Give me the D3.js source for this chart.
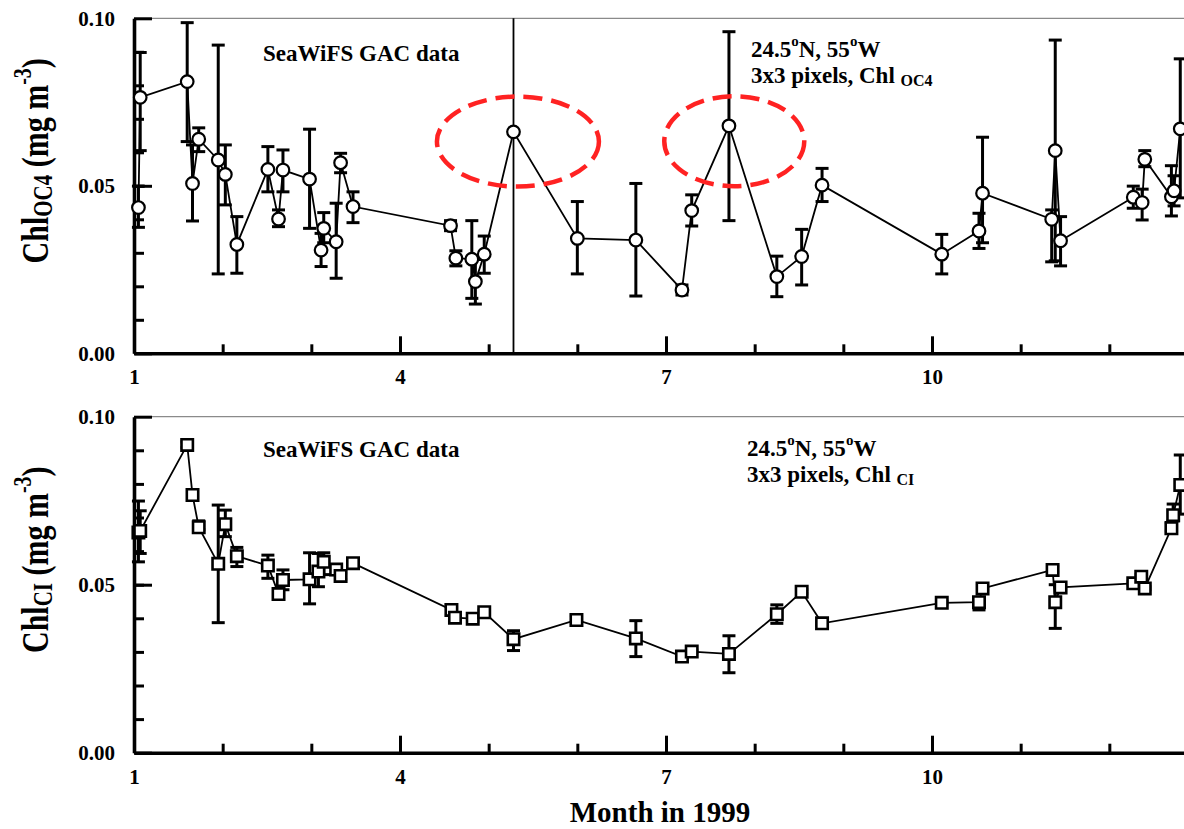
<!DOCTYPE html>
<html>
<head>
<meta charset="utf-8">
<script src="https://cdn.jsdelivr.net/npm/d3@7"></script>
<style>
  body { margin: 0; background: #fff; }
  svg {
    display: block;
    font-family: "Liberation Serif", "Times New Roman", serif;
    font-weight: bold;
  }
</style>
</head>
<body>
<div id="chart"></div>
<script>
// SeaWiFS GAC, 24.5N 55W, 3x3 pixels -- month of 1999 (fractional) and Chl in mg m-3
const oc4Months = [1.05, 1.07, 1.60, 1.66, 1.73, 1.95, 2.03, 2.16, 2.51, 2.63, 2.68, 2.98, 3.11, 3.14, 3.28, 3.33, 3.47,
  4.57, 4.63, 4.81, 4.85, 4.95, 5.28, 6.00, 6.66, 7.18, 7.29, 7.71, 8.25, 8.53, 8.76, 10.11, 10.53, 10.57,
  11.35, 11.39, 11.45, 12.27, 12.37, 12.40, 12.70, 12.73, 12.80];
const oc4Chl = [0.0435, 0.0764, 0.0811, 0.0507, 0.0639, 0.0577, 0.0534, 0.0325, 0.0549, 0.0401, 0.0547, 0.0520, 0.0308,
  0.0373, 0.0333, 0.0569, 0.0438, 0.0381, 0.0284, 0.0281, 0.0214, 0.0296, 0.0661, 0.0343, 0.0338, 0.0189, 0.0426,
  0.0679, 0.0229, 0.0289, 0.0502, 0.0296, 0.0365, 0.0478, 0.0400, 0.0605, 0.0336, 0.0466, 0.0450, 0.0579, 0.0467,
  0.0485, 0.0670];
const oc4Low = [0.0376, 0.0605, 0.0632, 0.0395, 0.0602, 0.0237, 0.0443, 0.0239, 0.0482, 0.0378, 0.0482, 0.0373, 0.0259,
  0.0330, 0.0224, 0.0539, 0.0390, 0.0366, 0.0261, 0.0164, 0.0147, 0.0239, 0.0661, 0.0237, 0.0171, 0.0174, 0.0380,
  0.0396, 0.0169, 0.0204, 0.0453, 0.0237, 0.0313, 0.0330, 0.0273, 0.0276, 0.0261, 0.0433, 0.0398, 0.0557, 0.0410,
  0.0440, 0.0464];
const oc4High = [0.0499, 0.0898, 0.0987, 0.0622, 0.0673, 0.0920, 0.0622, 0.0408, 0.0617, 0.0428, 0.0607, 0.0669, 0.0358,
  0.0420, 0.0448, 0.0597, 0.0482, 0.0396, 0.0306, 0.0396, 0.0280, 0.0350, 0.0661, 0.0453, 0.0507, 0.0204, 0.0473,
  0.0960, 0.0290, 0.0370, 0.0552, 0.0355, 0.0418, 0.0645, 0.0428, 0.0935, 0.0408, 0.0499, 0.0490, 0.0605, 0.0560,
  0.0530, 0.0879];

const ciMonths = [1.05, 1.07, 1.60, 1.66, 1.73, 1.95, 2.03, 2.16, 2.51, 2.63, 2.68, 2.98, 3.08, 3.14, 3.28, 3.33, 3.47,
  4.58, 4.62, 4.82, 4.95, 5.28, 5.99, 6.66, 7.18, 7.29, 7.71, 8.25, 8.53, 8.76, 10.11, 10.53, 10.57,
  11.36, 11.39, 11.45, 12.27, 12.36, 12.40, 12.70, 12.72, 12.80];
const ciChl = [0.0655, 0.0660, 0.0916, 0.0767, 0.0671, 0.0562, 0.0680, 0.0585, 0.0557, 0.0472, 0.0514, 0.0516, 0.0539,
  0.0568, 0.0545, 0.0526, 0.0564, 0.0425, 0.0402, 0.0399, 0.0418, 0.0338, 0.0395, 0.0340, 0.0286, 0.0301, 0.0294,
  0.0412, 0.0479, 0.0385, 0.0446, 0.0448, 0.0489, 0.0544, 0.0448, 0.0492, 0.0504, 0.0524, 0.0489, 0.0668, 0.0707,
  0.0797];
const ciLow = [0.0568, 0.0593, 0.0908, 0.0760, 0.0664, 0.0387, 0.0643, 0.0554, 0.0519, 0.0462, 0.0485, 0.0443, 0.0494,
  0.0530, 0.0530, 0.0515, 0.0560, 0.0410, 0.0395, 0.0392, 0.0412, 0.0304, 0.0385, 0.0286, 0.0282, 0.0298, 0.0238,
  0.0385, 0.0474, 0.0380, 0.0443, 0.0425, 0.0485, 0.0538, 0.0370, 0.0488, 0.0500, 0.0519, 0.0485, 0.0660, 0.0690,
  0.0710];
const ciHigh = [0.0749, 0.0720, 0.0925, 0.0772, 0.0690, 0.0737, 0.0722, 0.0611, 0.0588, 0.0485, 0.0544, 0.0595, 0.0593,
  0.0595, 0.0560, 0.0535, 0.0568, 0.0440, 0.0408, 0.0405, 0.0424, 0.0363, 0.0408, 0.0393, 0.0290, 0.0305, 0.0348,
  0.0440, 0.0485, 0.0390, 0.0450, 0.0460, 0.0495, 0.0555, 0.0500, 0.0498, 0.0510, 0.0530, 0.0494, 0.0685, 0.0740,
  0.0886];

const xMajorTicks = [1, 4, 7, 10, 13];
const xTickLabels = ["1", "4", "7", "10", ""]; // 13 falls off the page
const yMajorTicks = [0, 0.05, 0.1];
const yTickLabels = ["0.00", "0.05", "0.10"];

// upper panel: vertical marker and the two circled peaks
const markerMonth = 5.28;
const circledMonths = [5.33, 7.77];
const circledChl = [0.0632, 0.0633];

const dimensions = {
  width: 1184,
  height: 829,
  left: 134,
  right: 1198, // month 13 sits just past the page edge
};

const svg = d3
  .select("#chart")
  .append("svg")
  .attr("width", dimensions.width)
  .attr("height", dimensions.height);

const x = d3.scaleLinear().domain([1, 13]).range([dimensions.left, dimensions.right]);

const panels = [
  { top: 18.3, bottom: 353.3, months: oc4Months, chl: oc4Chl, low: oc4Low, high: oc4High,
    symbol: d3.symbolCircle, sub: "OC4", textY: 61, siteY: 57 },
  { top: 416.7, bottom: 752.7, months: ciMonths, chl: ciChl, low: ciLow, high: ciHigh,
    symbol: d3.symbolSquare, sub: "CI", textY: 457, siteY: 456 },
];

panels.forEach((p, k) => {
  const y = d3.scaleLinear().domain([0, 0.1]).range([p.bottom, p.top]);
  const g = svg.append("g");

  // thin frame line along the top
  g.append("line")
    .attr("x1", x(1))
    .attr("x2", x(13))
    .attr("y1", y(0.1))
    .attr("y2", y(0.1))
    .attr("stroke", "#8a8a8a")
    .attr("stroke-width", 1.3);

  // minor ticks (inward)
  g.append("g")
    .attr("transform", `translate(${x(1)},0)`)
    .call(d3.axisLeft(y).tickValues(d3.range(1, 10).map((i) => i / 100)).tickSize(-10).tickSizeOuter(0).tickFormat(""))
    .call((a) => a.select(".domain").remove());
  g.append("g")
    .attr("transform", `translate(0,${y(0)})`)
    .call(d3.axisBottom(x).tickValues(d3.range(2, 13)).tickSize(-9).tickSizeOuter(0).tickFormat(""))
    .call((a) => a.select(".domain").remove());

  // major ticks with labels
  const yAxis = g.append("g")
    .attr("transform", `translate(${x(1)},0)`)
    .call(d3.axisLeft(y).tickValues(yMajorTicks).tickSize(-18).tickSizeOuter(0).tickPadding(19)
      .tickFormat((d, i) => yTickLabels[i]));
  const xAxis = g.append("g")
    .attr("transform", `translate(0,${y(0)})`)
    .call(d3.axisBottom(x).tickValues(xMajorTicks).tickSize(-17).tickSizeOuter(0).tickPadding(16)
      .tickFormat((d, i) => xTickLabels[i]));

  [yAxis, xAxis].forEach((a) => {
    a.attr("font-family", null).attr("font-size", null);
    a.selectAll("text").attr("font-size", "21px").attr("fill", "#000");
  });
  g.selectAll(".tick line").attr("stroke", "#000").attr("stroke-width", 3);
  g.selectAll(".domain").attr("stroke", "#000").attr("stroke-width", 3.6);

  // upper panel vertical marker
  if (k === 0) {
    g.append("line")
      .attr("x1", x(markerMonth))
      .attr("x2", x(markerMonth))
      .attr("y1", y(0.1))
      .attr("y2", y(0))
      .attr("stroke", "#000")
      .attr("stroke-width", 1.8);
  }

  const idx = d3.range(p.months.length);

  // connecting line
  const line = d3.line().x((i) => x(p.months[i])).y((i) => y(p.chl[i]));
  g.append("path")
    .datum(idx)
    .attr("d", line)
    .attr("fill", "none")
    .attr("stroke", "#000")
    .attr("stroke-width", 1.8);

  // error bars
  const bars = g.append("g").attr("stroke", "#000").attr("stroke-width", 3);
  idx.filter((i) => p.high[i] > p.low[i]).forEach((i) => {
    const cx = x(p.months[i]);
    bars.append("line").attr("x1", cx).attr("x2", cx).attr("y1", y(p.high[i])).attr("y2", y(p.low[i]));
    [p.high[i], p.low[i]].forEach((v) => {
      bars.append("line").attr("x1", cx - 6.5).attr("x2", cx + 6.5).attr("y1", y(v)).attr("y2", y(v));
    });
  });

  // markers
  g.selectAll("path.point")
    .data(idx)
    .enter()
    .append("path")
    .attr("class", "point")
    .attr("transform", (i) => `translate(${x(p.months[i])},${y(p.chl[i])})`)
    .attr("d", d3.symbol().type(p.symbol).size(k === 0 ? 125 : 130))
    .attr("fill", "#fff")
    .attr("stroke", "#000")
    .attr("stroke-width", k === 0 ? 2.2 : 2.6);

  // red dashed ellipses round the two peaks
  if (k === 0) {
    g.selectAll("ellipse")
      .data(circledMonths)
      .enter()
      .append("ellipse")
      .attr("cx", (d) => x(d))
      .attr("cy", (d, i) => y(circledChl[i]))
      .attr("rx", (d, i) => (i === 0 ? 81 : 70))
      .attr("ry", 45)
      .attr("fill", "none")
      .attr("stroke", "#ff2222")
      .attr("stroke-width", 4.5)
      .attr("stroke-dasharray", "19,9");
  }

  // y title
  const title = g.append("text")
    .attr("transform", `translate(48,${(p.top + p.bottom) / 2 - 25}) rotate(-90) scale(1,1.25)`)
    .attr("text-anchor", "middle")
    .attr("font-size", "30px")
    .attr("fill", "#000");
  title.append("tspan").text("Chl");
  title.append("tspan").attr("font-size", "21px").attr("dy", 3).text(p.sub);
  title.append("tspan").attr("dy", -3).text(" (mg m");
  title.append("tspan").attr("font-size", "20px").attr("dy", -14).text("-3");
  title.append("tspan").attr("dy", 14).text(")");

  // annotations
  g.append("text")
    .attr("x", 263)
    .attr("y", p.textY)
    .attr("font-size", "23px")
    .text("SeaWiFS GAC data");

  const site = g.append("text")
    .attr("x", k === 0 ? 751 : 747)
    .attr("y", p.siteY)
    .attr("font-size", "23px");
  site.append("tspan").text("24.5");
  site.append("tspan").attr("font-size", "15px").attr("dy", -11).text("o");
  site.append("tspan").attr("dy", 11).text("N, 55");
  site.append("tspan").attr("font-size", "15px").attr("dy", -11).text("o");
  site.append("tspan").attr("dy", 11).text("W");

  const pix = g.append("text")
    .attr("x", k === 0 ? 751 : 747)
    .attr("y", p.siteY + 26)
    .attr("font-size", "23px");
  pix.append("tspan").text("3x3 pixels, Chl ");
  pix.append("tspan").attr("font-size", "16px").attr("dy", 3).text(p.sub);
});

// x title
svg.append("text")
  .attr("x", 660)
  .attr("y", 822)
  .attr("text-anchor", "middle")
  .attr("font-size", "29px")
  .text("Month in 1999");
</script>
</body>
</html>
